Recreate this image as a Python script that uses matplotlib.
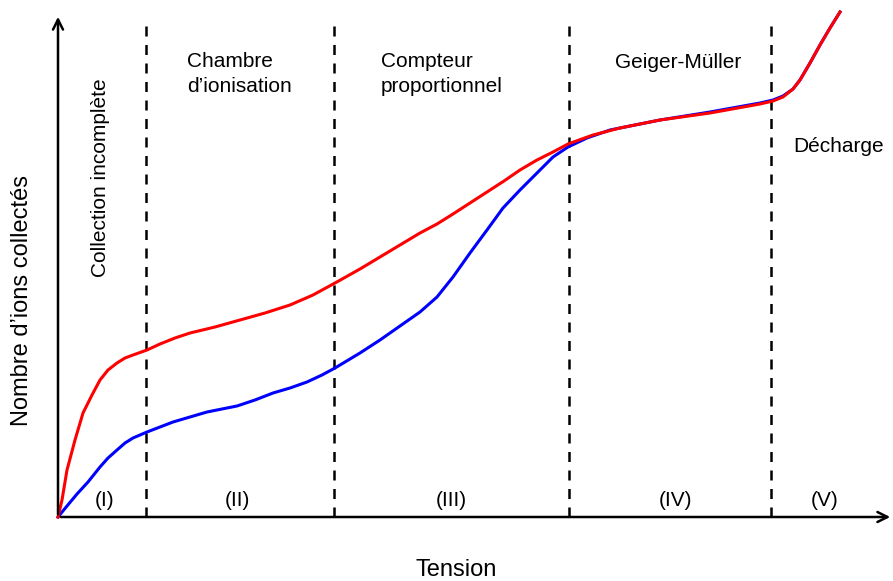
import matplotlib.pyplot as plt

plt.rcParams['font.family'] = ['Liberation Sans', 'DejaVu Sans']

# Tension et nombre d'ions (unites arbitraires)
x_rouge = [0, 4, 9, 17, 25, 34, 42, 50, 59, 67, 75, 89, 102, 117, 132, 157,
           182, 207, 232, 255, 277, 302, 332, 362, 379, 395, 412, 429, 446,
           462, 479, 495, 510, 535, 562, 602, 652, 702, 715, 725, 735, 742,
           752, 762, 772, 782]
y_rouge = [0, 17, 47, 77, 104, 122, 137, 147, 154, 159, 162, 167, 173, 179,
           184, 190, 197, 204, 212, 222, 234, 248, 266, 284, 293, 303, 314,
           325, 336, 347, 357, 365, 373, 382, 389, 397, 404, 413, 416, 420,
           428, 437, 454, 472, 489, 505]

x_bleu = [0, 9, 19, 30, 42, 50, 59, 67, 75, 89, 102, 115, 132, 149, 164, 179,
          197, 215, 232, 249, 264, 277, 302, 322, 342, 362, 379, 395, 412, 429,
          445, 462, 479, 495, 510, 529, 552, 602, 652, 702, 715, 725, 735, 742,
          752, 762, 772, 782]
y_bleu = [0, 11, 23, 35, 50, 59, 67, 74, 79, 85, 90, 95, 100, 105, 108, 111,
          117, 124, 129, 135, 142, 149, 164, 177, 191, 205, 220, 240, 264, 287,
          309, 327, 344, 360, 370, 379, 387, 397, 405, 414, 417, 421, 428, 437,
          454, 472, 489, 505]

frontieres = [88, 276, 511, 713]
regions = ['(I)', '(II)', '(III)', '(IV)', '(V)']
regions_x = [47, 179, 393, 618, 767]

fig = plt.figure(figsize=(8.93, 5.81), dpi=100)
ax = fig.add_axes([0, 0, 1, 1])
ax.set_xlim(-58, 835)
ax.set_ylim(-64, 517)
ax.axis('off')

# axes avec fleches
ax.annotate('', xy=(0, 503), xytext=(0, 0),
            arrowprops=dict(arrowstyle='->', lw=1.8, color='black', mutation_scale=18))
ax.annotate('', xy=(835, 0), xytext=(0, 0),
            arrowprops=dict(arrowstyle='->', lw=1.8, color='black', mutation_scale=18))

for xf in frontieres:
    ax.plot([xf, xf], [0, 494], color='black', lw=1.8, linestyle=(0, (4, 3.4)))

ax.plot(x_bleu, y_bleu, color='#0000ff', lw=2.2, solid_joinstyle='round')
ax.plot(x_rouge, y_rouge, color='#ff0000', lw=2.2, solid_joinstyle='round')

for xr, lab in zip(regions_x, regions):
    ax.text(xr, 17, lab, ha='center', va='center', fontsize=15)

ax.text(129, 443, 'Chambre\nd\u2019ionisation', ha='left', va='center',
        fontsize=15, linespacing=1.4)
ax.text(323, 443, 'Compteur\nproportionnel', ha='left', va='center',
        fontsize=15, linespacing=1.4)
ax.text(620, 455, 'Geiger-M\u00fcller', ha='center', va='center', fontsize=15)
ax.text(735, 371, 'D\u00e9charge', ha='left', va='center', fontsize=15)
ax.text(42, 339, 'Collection incompl\u00e8te', ha='center', va='center',
        rotation=90, fontsize=15)

ax.text(-36, 217, 'Nombre d\u2019ions collect\u00e9s', ha='center', va='center',
        rotation=90, fontsize=17)
ax.text(398, -53, 'Tension', ha='center', va='center', fontsize=17)

fig.savefig('out.png', dpi=100)
